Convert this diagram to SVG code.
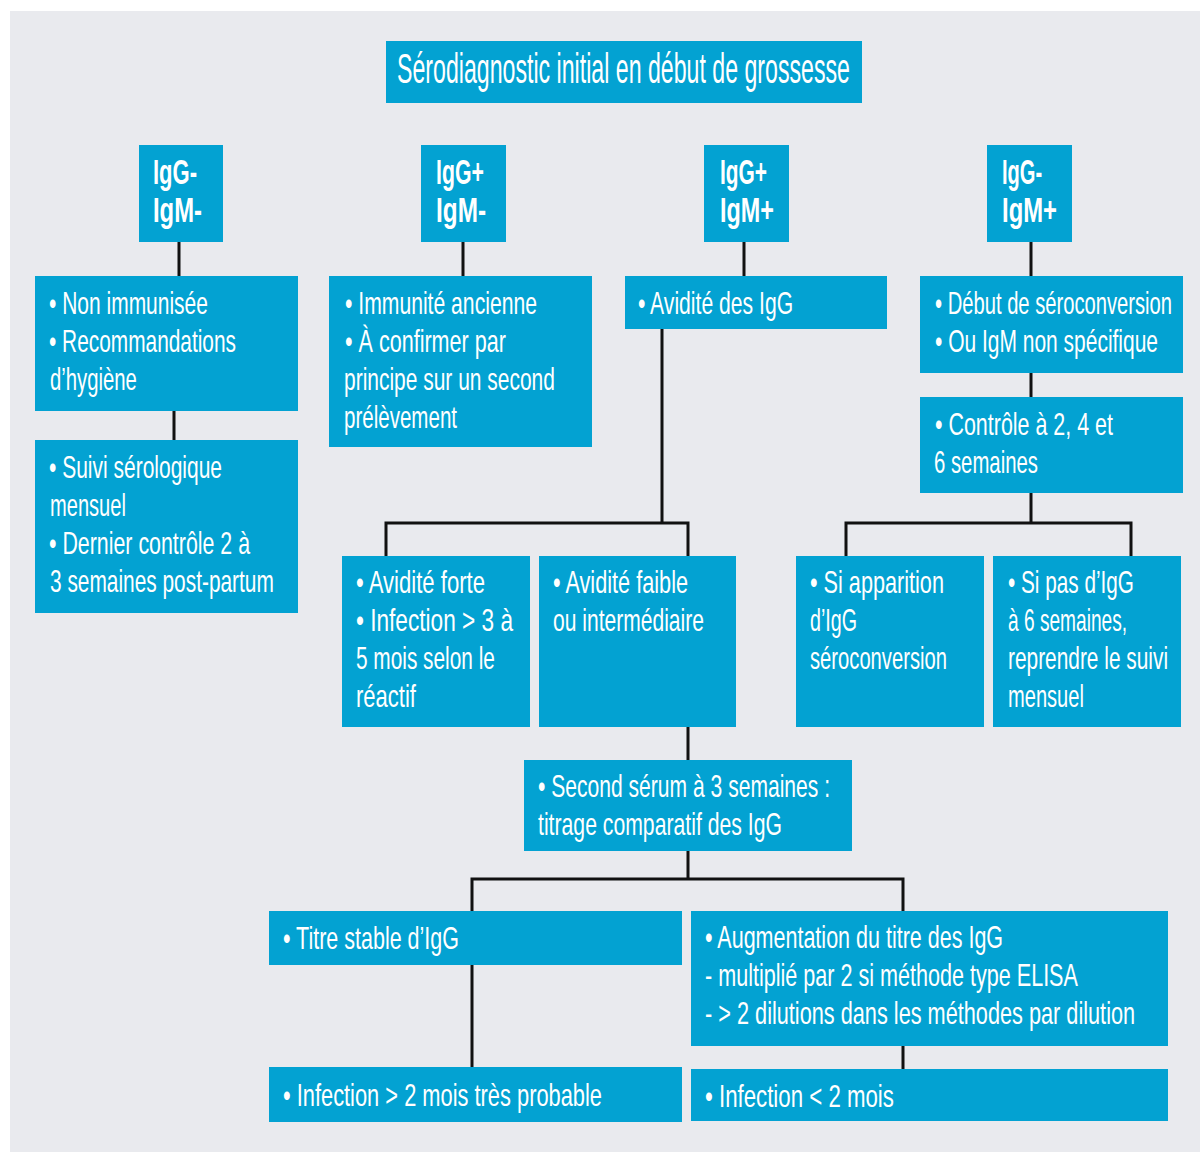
<svg xmlns="http://www.w3.org/2000/svg" width="1202" height="1158" viewBox="0 0 1202 1158">
<style>
.box{fill:#03a2d2}
.t{font-family:"Liberation Sans Narrow","Liberation Sans",Arial,sans-serif;font-size:31px;fill:#ffffff}
.ti{font-size:42px}
.lb{font-weight:bold;font-size:35px}
.ln{stroke:#111111;stroke-width:3;fill:none}
</style>
<rect x="0" y="0" width="1202" height="1158" fill="#ffffff"/>
<rect x="10" y="11" width="1190" height="1141" fill="#e9eaee"/>
<g id="connectors">
<path class="ln" d="M179 242V276M174 411V440M463 242V276M744 242V276M1031 242V276M1031 373V397M1031 493V523M846 556V523H1131V556M662 329V523M386 556V523H688V556M688 727V760M688 851V879M472 911V879H903V911M472 965V1067M903 1046V1069"/>
</g>
<g id="title">
<rect class="box" x="386" y="41" width="476" height="62"/>
<text class="t ti" transform="translate(397 83) scale(0.5 1)" textLength="906" lengthAdjust="spacingAndGlyphs">Sérodiagnostic initial en début de grossesse</text>
</g>
<g id="igg-igm-">
<rect class="box" x="139" y="145" width="84" height="97"/>
<text class="t lb" transform="translate(153 184) scale(0.55 1)" textLength="80" lengthAdjust="spacingAndGlyphs">IgG-</text>
<text class="t lb" transform="translate(153 222) scale(0.55 1)" textLength="89" lengthAdjust="spacingAndGlyphs">IgM-</text>
</g>
<g id="iggp-igm-">
<rect class="box" x="421" y="145" width="85" height="97"/>
<text class="t lb" transform="translate(436 184) scale(0.55 1)" textLength="87" lengthAdjust="spacingAndGlyphs">IgG+</text>
<text class="t lb" transform="translate(436 222) scale(0.55 1)" textLength="91" lengthAdjust="spacingAndGlyphs">IgM-</text>
</g>
<g id="iggp-igmp">
<rect class="box" x="704" y="145" width="85" height="97"/>
<text class="t lb" transform="translate(720 184) scale(0.55 1)" textLength="85.5" lengthAdjust="spacingAndGlyphs">IgG+</text>
<text class="t lb" transform="translate(720 222) scale(0.55 1)" textLength="98" lengthAdjust="spacingAndGlyphs">IgM+</text>
</g>
<g id="igg-igmp">
<rect class="box" x="987" y="145" width="85" height="97"/>
<text class="t lb" transform="translate(1002 184) scale(0.55 1)" textLength="73" lengthAdjust="spacingAndGlyphs">IgG-</text>
<text class="t lb" transform="translate(1002 222) scale(0.55 1)" textLength="100" lengthAdjust="spacingAndGlyphs">IgM+</text>
</g>
<g id="non-immunisee">
<rect class="box" x="35" y="276" width="263" height="135"/>
<text class="t" transform="translate(49 314) scale(0.55 1)" textLength="289" lengthAdjust="spacingAndGlyphs">• Non immunisée</text>
<text class="t" transform="translate(49 352) scale(0.55 1)" textLength="340" lengthAdjust="spacingAndGlyphs">• Recommandations</text>
<text class="t" transform="translate(50 390) scale(0.55 1)" textLength="158" lengthAdjust="spacingAndGlyphs">d’hygiène</text>
</g>
<g id="suivi">
<rect class="box" x="35" y="440" width="263" height="173"/>
<text class="t" transform="translate(49 478) scale(0.55 1)" textLength="314.5" lengthAdjust="spacingAndGlyphs">• Suivi sérologique</text>
<text class="t" transform="translate(50 516) scale(0.55 1)" textLength="138" lengthAdjust="spacingAndGlyphs">mensuel</text>
<text class="t" transform="translate(49 554) scale(0.55 1)" textLength="365.5" lengthAdjust="spacingAndGlyphs">• Dernier contrôle 2 à</text>
<text class="t" transform="translate(50 592) scale(0.55 1)" textLength="407" lengthAdjust="spacingAndGlyphs">3 semaines post-partum</text>
</g>
<g id="immunite">
<rect class="box" x="329" y="276" width="263" height="171"/>
<text class="t" transform="translate(345 314) scale(0.55 1)" textLength="349" lengthAdjust="spacingAndGlyphs">• Immunité ancienne</text>
<text class="t" transform="translate(345 352) scale(0.55 1)" textLength="292.5" lengthAdjust="spacingAndGlyphs">• À confirmer par</text>
<text class="t" transform="translate(344 390) scale(0.55 1)" textLength="383.5" lengthAdjust="spacingAndGlyphs">principe sur un second</text>
<text class="t" transform="translate(344 428) scale(0.55 1)" textLength="205.5" lengthAdjust="spacingAndGlyphs">prélèvement</text>
</g>
<g id="avidite">
<rect class="box" x="625" y="276" width="262" height="53"/>
<text class="t" transform="translate(638 314) scale(0.55 1)" textLength="282" lengthAdjust="spacingAndGlyphs">• Avidité des IgG</text>
</g>
<g id="debut">
<rect class="box" x="920" y="276" width="263" height="97"/>
<text class="t" transform="translate(935 314) scale(0.55 1)" textLength="431" lengthAdjust="spacingAndGlyphs">• Début de séroconversion</text>
<text class="t" transform="translate(935 352) scale(0.55 1)" textLength="405.5" lengthAdjust="spacingAndGlyphs">• Ou IgM non spécifique</text>
</g>
<g id="controle">
<rect class="box" x="920" y="397" width="263" height="96"/>
<text class="t" transform="translate(935 435) scale(0.55 1)" textLength="323.5" lengthAdjust="spacingAndGlyphs">• Contrôle à 2, 4 et</text>
<text class="t" transform="translate(934 473) scale(0.55 1)" textLength="189" lengthAdjust="spacingAndGlyphs">6 semaines</text>
</g>
<g id="avidite-forte">
<rect class="box" x="342" y="556" width="188" height="171"/>
<text class="t" transform="translate(356 593) scale(0.55 1)" textLength="234.5" lengthAdjust="spacingAndGlyphs">• Avidité forte</text>
<text class="t" transform="translate(356 631) scale(0.55 1)" textLength="285.5" lengthAdjust="spacingAndGlyphs">• Infection &gt; 3 à</text>
<text class="t" transform="translate(356 669) scale(0.55 1)" textLength="252.5" lengthAdjust="spacingAndGlyphs">5 mois selon le</text>
<text class="t" transform="translate(356 707) scale(0.55 1)" textLength="109" lengthAdjust="spacingAndGlyphs">réactif</text>
</g>
<g id="avidite-faible">
<rect class="box" x="539" y="556" width="197" height="171"/>
<text class="t" transform="translate(553 593) scale(0.55 1)" textLength="245.5" lengthAdjust="spacingAndGlyphs">• Avidité faible</text>
<text class="t" transform="translate(553 631) scale(0.55 1)" textLength="274.5" lengthAdjust="spacingAndGlyphs">ou intermédiaire</text>
</g>
<g id="si-apparition">
<rect class="box" x="796" y="556" width="188" height="171"/>
<text class="t" transform="translate(810 593) scale(0.55 1)" textLength="243.5" lengthAdjust="spacingAndGlyphs">• Si apparition</text>
<text class="t" transform="translate(810 631) scale(0.55 1)" textLength="85.5" lengthAdjust="spacingAndGlyphs">d’IgG</text>
<text class="t" transform="translate(810 669) scale(0.55 1)" textLength="249" lengthAdjust="spacingAndGlyphs">séroconversion</text>
</g>
<g id="si-pas">
<rect class="box" x="993" y="556" width="188" height="171"/>
<text class="t" transform="translate(1008 593) scale(0.55 1)" textLength="229" lengthAdjust="spacingAndGlyphs">• Si pas d’IgG</text>
<text class="t" transform="translate(1008 631) scale(0.55 1)" textLength="216.5" lengthAdjust="spacingAndGlyphs">à 6 semaines,</text>
<text class="t" transform="translate(1008 669) scale(0.55 1)" textLength="291" lengthAdjust="spacingAndGlyphs">reprendre le suivi</text>
<text class="t" transform="translate(1008 707) scale(0.55 1)" textLength="138" lengthAdjust="spacingAndGlyphs">mensuel</text>
</g>
<g id="second-serum">
<rect class="box" x="524" y="760" width="328" height="91"/>
<text class="t" transform="translate(538 797) scale(0.55 1)" textLength="531" lengthAdjust="spacingAndGlyphs">• Second sérum à 3 semaines :</text>
<text class="t" transform="translate(538 835) scale(0.55 1)" textLength="443.5" lengthAdjust="spacingAndGlyphs">titrage comparatif des IgG</text>
</g>
<g id="titre-stable">
<rect class="box" x="269" y="911" width="413" height="54"/>
<text class="t" transform="translate(283 949) scale(0.55 1)" textLength="320" lengthAdjust="spacingAndGlyphs">• Titre stable d’IgG</text>
</g>
<g id="augmentation">
<rect class="box" x="691" y="911" width="477" height="135"/>
<text class="t" transform="translate(705 948) scale(0.55 1)" textLength="542" lengthAdjust="spacingAndGlyphs">• Augmentation du titre des IgG</text>
<text class="t" transform="translate(705 986) scale(0.55 1)" textLength="678" lengthAdjust="spacingAndGlyphs">- multiplié par 2 si méthode type ELISA</text>
<text class="t" transform="translate(705 1024) scale(0.55 1)" textLength="782" lengthAdjust="spacingAndGlyphs">- &gt; 2 dilutions dans les méthodes par dilution</text>
</g>
<g id="infection-plus">
<rect class="box" x="269" y="1067" width="413" height="55"/>
<text class="t" transform="translate(283 1106) scale(0.55 1)" textLength="580" lengthAdjust="spacingAndGlyphs">• Infection &gt; 2 mois très probable</text>
</g>
<g id="infection-moins">
<rect class="box" x="691" y="1069" width="477" height="52"/>
<text class="t" transform="translate(705 1107) scale(0.55 1)" textLength="343.5" lengthAdjust="spacingAndGlyphs">• Infection &lt; 2 mois</text>
</g>
</svg>
